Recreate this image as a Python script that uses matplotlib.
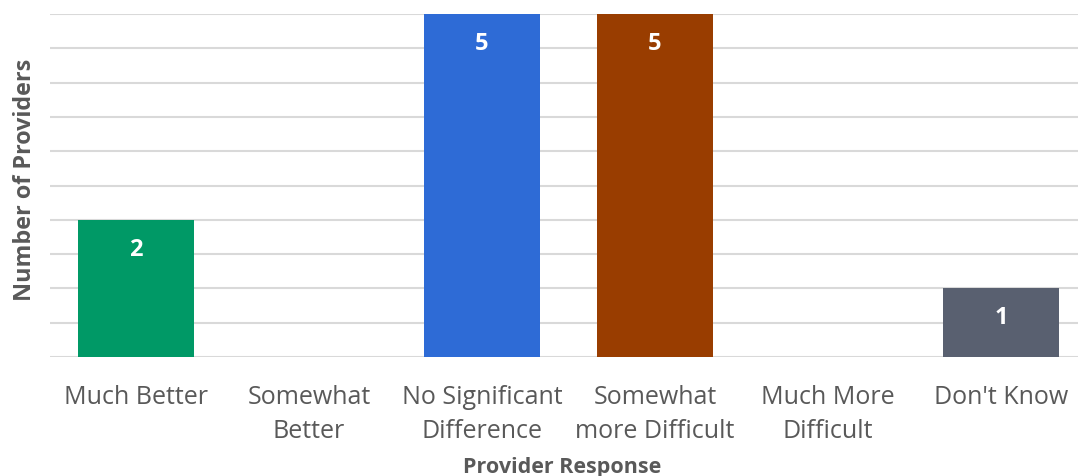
import numpy as np
import matplotlib.pyplot as plt

categories = ["Much Better", "Somewhat\nBetter", "No Significant\nDifference",
              "Somewhat\nmore Difficult", "Much More\nDifficult", "Don't Know"]
counts = [2, 0, 5, 5, 0, 1]
colors = ["#009966", "#2E6BD6", "#2E6BD6", "#993D00", "#993D00", "#596070"]

plt.rcParams['font.family'] = ['Open Sans', 'DejaVu Sans']

fig = plt.figure(figsize=(10.78, 4.77), dpi=100)
ax = fig.add_axes([49.5/1078, 1 - 358/477, 1038/1078, 343/477])

x = np.arange(len(categories))
bars = ax.bar(x, counts, width=0.665, color=colors, zorder=3)

for b, v in zip(bars, counts):
    if v > 0:
        ax.text(b.get_x() + b.get_width()/2, v - 0.42, str(v), ha="center", va="center",
                color="white", fontsize=17, fontweight="bold", zorder=4)

ax.set_xlim(-0.5, len(categories) - 0.5)
ax.set_ylim(0, 5)
ax.set_yticks(np.arange(0, 5.01, 0.5))
ax.set_yticklabels([])
ax.tick_params(axis="y", length=0)
ax.grid(axis="y", color="#D9D9D9", linewidth=1.5, zorder=0)
for s in ax.spines.values():
    s.set_visible(False)

ax.set_xticks(x)
ax.set_xticklabels(categories, fontsize=18, color="#595959", linespacing=1.48)
ax.tick_params(axis="x", length=0, pad=19.5)

ax.set_ylabel("Number of Providers", fontsize=16.8, fontweight="bold", color="#595959")
ax.yaxis.set_label_coords(-0.012, 0.52)
ax.set_xlabel("Provider Response", fontsize=15.5, fontweight="bold", color="#595959")
ax.xaxis.set_label_coords(0.494, -0.289)

fig.savefig("out.png", dpi=100)
